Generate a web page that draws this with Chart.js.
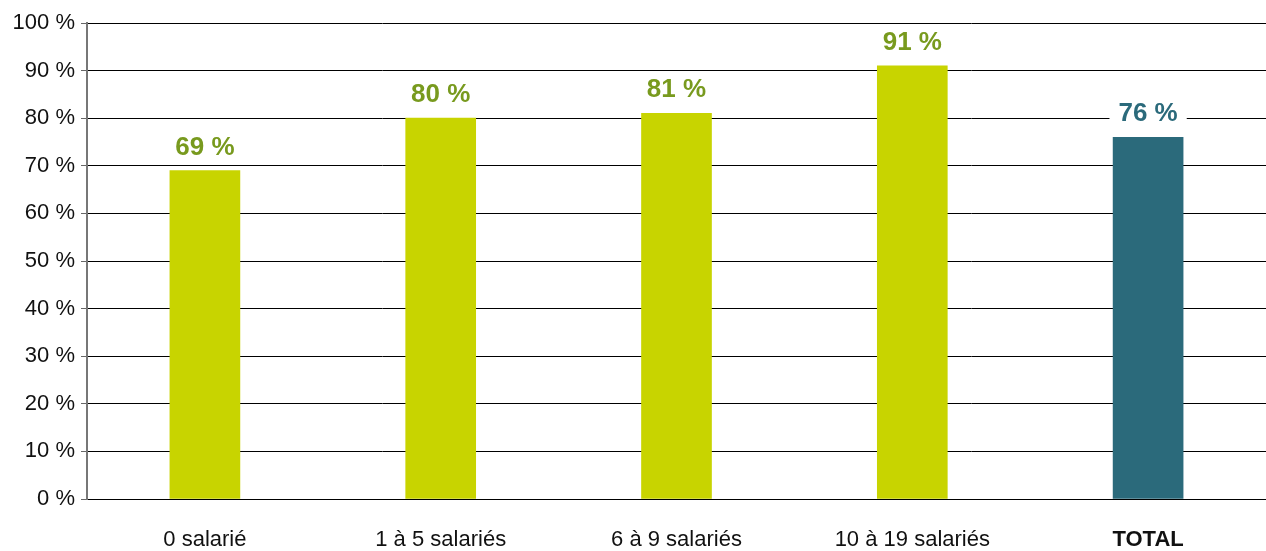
<!DOCTYPE html>
<html>
<head>
<meta charset="utf-8">
<script src="https://cdn.jsdelivr.net/npm/chart.js@4"></script>
<style>
  html, body { margin: 0; padding: 0; background: #fff; }
  #box { width: 1266px; height: 551px; }
</style>
</head>
<body>
<div id="box"><canvas id="chart"></canvas></div>
<script>
// donnees
let categories = ['0 salarié', '1 à 5 salariés', '6 à 9 salariés', '10 à 19 salariés', 'TOTAL'];
let valeurs = [69, 80, 81, 91, 76];
let ticksY = [0, 10, 20, 30, 40, 50, 60, 70, 80, 90, 100];

let police = "'Liberation Sans', Arial, sans-serif";
let vert = '#c8d400';
let bleu = '#2b6a7b';

let couleurs = categories.map(c => c == 'TOTAL' ? bleu : vert);
let couleursTexte = categories.map(c => c == 'TOTAL' ? bleu : '#789a1e');

// etiquettes au-dessus des barres
const etiquettes = {
  id: 'etiquettes',
  afterDatasetsDraw (chart) {
    const ctx = chart.ctx;
    const meta = chart.getDatasetMeta(0);
    ctx.save();
    ctx.font = 'bold 26px ' + police;
    ctx.textAlign = 'center';
    ctx.textBaseline = 'alphabetic';
    meta.data.forEach((barre, i) => {
      let txt = valeurs[i] + ' %';
      let y = barre.y - 16;
      if (categories[i] == 'TOTAL') {
        let w = ctx.measureText(txt).width;
        ctx.fillStyle = '#fff';
        ctx.fillRect(barre.x - w / 2 - 9, y - 24, w + 18, 30);
      }
      ctx.fillStyle = couleursTexte[i];
      ctx.fillText(txt, barre.x, y);
    });
    ctx.restore();
  }
};

new Chart(document.getElementById('chart'), {
  type: 'bar',
  data: {
    labels: categories,
    datasets: [{
      data: valeurs,
      backgroundColor: couleurs,
      barThickness: 70
    }]
  },
  plugins: [etiquettes],
  options: {
    responsive: true,
    maintainAspectRatio: false,
    animation: false,
    layout: { padding: { top: 23, right: 0, left: 0, bottom: 0 } },
    plugins: {
      legend: { display: false },
      tooltip: { enabled: false }
    },
    scales: {
      x: {
        afterFit: axe => { axe.height = 52; },
        grid: { display: false },
        border: { color: '#000', width: 1 },
        ticks: {
          color: '#111',
          padding: 20,
          font: ctx => ({
            family: police,
            size: 22,
            weight: categories[ctx.index] == 'TOTAL' ? 'bold' : 'normal'
          })
        }
      },
      y: {
        min: 0,
        max: 100,
        afterBuildTicks: axe => { axe.ticks = ticksY.map(v => ({ value: v })); },
        afterFit: axe => { axe.width = 87; },
        grid: { color: '#000', lineWidth: 1, tickColor: '#666', tickLength: 6 },
        border: { color: '#777', width: 2 },
        ticks: {
          color: '#111',
          padding: 6,
          font: { family: police, size: 22 },
          callback: v => v + ' %'
        }
      }
    }
  }
});
</script>
</body>
</html>
